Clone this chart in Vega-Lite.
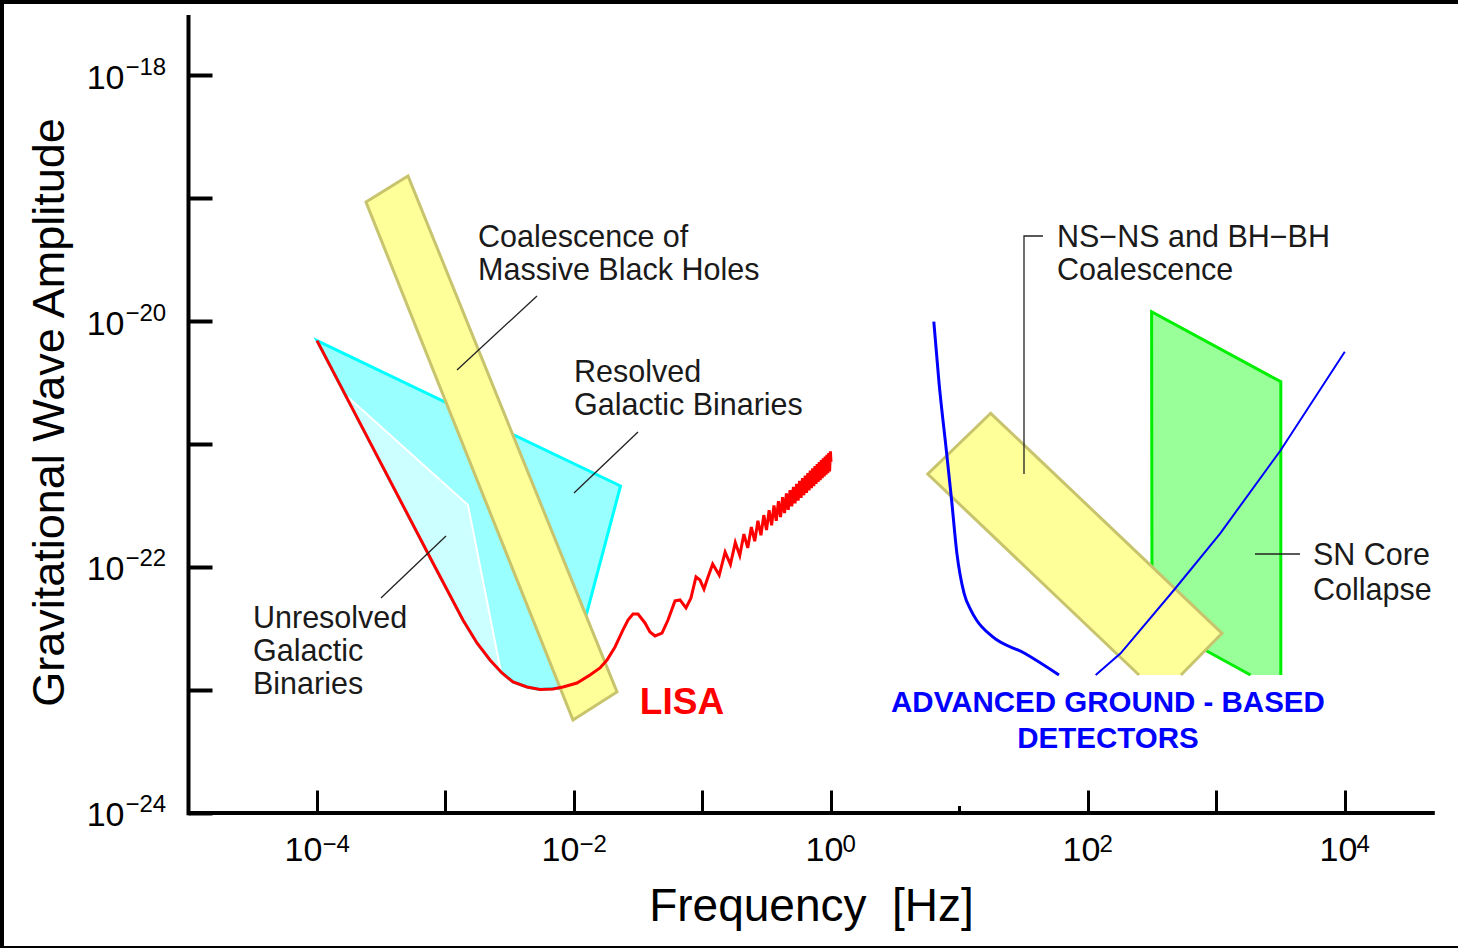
{
  "$schema": "https://vega.github.io/schema/vega-lite/v6.json",
  "width": 1458,
  "height": 948,
  "padding": 0,
  "autosize": {"type": "none"},
  "background": "white",
  "config": {"view": {"stroke": null}},
  "resolve": {"axis": {"x": "independent", "y": "independent"}},
  "datasets": {
    "cyan": [
      {"i": 0, "f": 1.0e-4, "h": 6.92e-21},
      {"i": 1, "f": 2.301e-2, "h": 4.555e-22},
      {"i": 2, "f": 1.263e-2, "h": 4.305e-23},
      {"i": 3, "f": 8.064e-3, "h": 1.038e-23},
      {"i": 4, "f": 5.437e-3, "h": 1.009e-23},
      {"i": 5, "f": 4.306e-3, "h": 1.057e-23},
      {"i": 6, "f": 3.353e-3, "h": 1.161e-23},
      {"i": 7, "f": 2.752e-3, "h": 1.374e-23},
      {"i": 8, "f": 2.220e-3, "h": 1.754e-23},
      {"i": 9, "f": 1.758e-3, "h": 2.41e-23},
      {"i": 10, "f": 1.368e-3, "h": 3.707e-23},
      {"i": 11, "f": 7.99e-4, "h": 1.078e-22}
    ],
    "lightcyan": [
      {"i": 0, "f": 1.774e-4, "h": 2.366e-21},
      {"i": 1, "f": 1.496e-3, "h": 3.19e-22},
      {"i": 2, "f": 2.703e-3, "h": 1.40e-23},
      {"i": 3, "f": 2.220e-3, "h": 1.754e-23},
      {"i": 4, "f": 1.758e-3, "h": 2.41e-23},
      {"i": 5, "f": 1.368e-3, "h": 3.707e-23},
      {"i": 6, "f": 7.99e-4, "h": 1.078e-22},
      {"i": 7, "f": 1.774e-4, "h": 2.196e-21}
    ],
    "mbh": [
      {"i": 0, "f": 2.406e-4, "h": 9.28e-20},
      {"i": 1, "f": 5.108e-4, "h": 1.510e-19},
      {"i": 2, "f": 2.161e-2, "h": 9.63e-24},
      {"i": 3, "f": 9.82e-3, "h": 5.70e-24}
    ],
    "lisa": [
      {"f": 1.0e-4, "h": 6.92e-21},
      {"f": 7.99e-4, "h": 1.078e-22},
      {"f": 1.368e-3, "h": 3.707e-23},
      {"f": 1.758e-3, "h": 2.41e-23},
      {"f": 2.220e-3, "h": 1.754e-23},
      {"f": 2.752e-3, "h": 1.374e-23},
      {"f": 3.353e-3, "h": 1.161e-23},
      {"f": 4.306e-3, "h": 1.057e-23},
      {"f": 5.437e-3, "h": 1.009e-23},
      {"f": 6.865e-3, "h": 1.019e-23},
      {"f": 8.21e-3, "h": 1.057e-23},
      {"f": 1.055e-2, "h": 1.140e-23},
      {"f": 1.332e-2, "h": 1.324e-23},
      {"f": 1.593e-2, "h": 1.510e-23},
      {"f": 1.806e-2, "h": 1.754e-23},
      {"f": 2.085e-2, "h": 2.239e-23},
      {"f": 2.406e-2, "h": 3.08e-23},
      {"f": 2.632e-2, "h": 3.707e-23},
      {"f": 2.878e-2, "h": 4.15e-23},
      {"f": 3.148e-2, "h": 4.15e-23},
      {"f": 3.569e-2, "h": 3.508e-23},
      {"f": 3.903e-2, "h": 2.965e-23},
      {"f": 4.270e-2, "h": 2.748e-23},
      {"f": 4.840e-2, "h": 2.904e-23},
      {"f": 5.389e-2, "h": 3.707e-23},
      {"f": 6.109e-2, "h": 5.30e-23},
      {"f": 6.681e-2, "h": 5.40e-23},
      {"f": 7.440e-2, "h": 4.65e-23},
      {"f": 8.138e-2, "h": 5.60e-23},
      {"f": 8.900e-2, "h": 8.30e-23},
      {"f": 9.561e-2, "h": 7.83e-23},
      {"f": 0.1027, "h": 6.62e-23},
      {"f": 0.1104, "h": 8.30e-23},
      {"f": 0.12, "h": 1.056e-22},
      {"f": 0.135, "h": 8.6e-23},
      {"f": 0.15, "h": 1.32e-22},
      {"f": 0.165, "h": 1.05e-22},
      {"f": 0.18, "h": 1.58e-22},
      {"f": 0.195, "h": 1.24e-22},
      {"f": 0.21, "h": 1.85e-22},
      {"f": 0.225, "h": 1.43e-22},
      {"f": 0.24, "h": 2.11e-22},
      {"f": 0.255, "h": 1.62e-22},
      {"f": 0.27, "h": 2.38e-22},
      {"f": 0.285, "h": 1.81e-22},
      {"f": 0.30, "h": 2.64e-22},
      {"f": 0.315, "h": 2.00e-22},
      {"f": 0.33, "h": 2.90e-22},
      {"f": 0.345, "h": 2.18e-22},
      {"f": 0.36, "h": 3.17e-22},
      {"f": 0.375, "h": 2.37e-22},
      {"f": 0.39, "h": 3.43e-22},
      {"f": 0.405, "h": 2.55e-22},
      {"f": 0.42, "h": 3.70e-22},
      {"f": 0.435, "h": 2.74e-22},
      {"f": 0.45, "h": 3.96e-22},
      {"f": 0.465, "h": 2.92e-22},
      {"f": 0.48, "h": 4.22e-22},
      {"f": 0.495, "h": 3.11e-22},
      {"f": 0.51, "h": 4.49e-22},
      {"f": 0.525, "h": 3.29e-22},
      {"f": 0.54, "h": 4.75e-22},
      {"f": 0.555, "h": 3.47e-22},
      {"f": 0.57, "h": 5.02e-22},
      {"f": 0.585, "h": 3.65e-22},
      {"f": 0.60, "h": 5.28e-22},
      {"f": 0.615, "h": 3.83e-22},
      {"f": 0.63, "h": 5.54e-22},
      {"f": 0.645, "h": 4.01e-22},
      {"f": 0.66, "h": 5.81e-22},
      {"f": 0.675, "h": 4.19e-22},
      {"f": 0.69, "h": 6.07e-22},
      {"f": 0.705, "h": 4.37e-22},
      {"f": 0.72, "h": 6.34e-22},
      {"f": 0.735, "h": 4.55e-22},
      {"f": 0.75, "h": 6.60e-22},
      {"f": 0.765, "h": 4.73e-22},
      {"f": 0.78, "h": 6.86e-22},
      {"f": 0.795, "h": 4.91e-22},
      {"f": 0.81, "h": 7.13e-22},
      {"f": 0.825, "h": 5.09e-22},
      {"f": 0.84, "h": 7.39e-22},
      {"f": 0.855, "h": 5.27e-22},
      {"f": 0.87, "h": 7.66e-22},
      {"f": 0.885, "h": 5.44e-22},
      {"f": 0.90, "h": 7.92e-22},
      {"f": 0.915, "h": 5.62e-22},
      {"f": 0.93, "h": 8.18e-22},
      {"f": 0.945, "h": 5.80e-22},
      {"f": 0.96, "h": 8.45e-22},
      {"f": 0.975, "h": 5.97e-22},
      {"f": 0.99, "h": 8.71e-22},
      {"f": 1.0, "h": 7.15e-22}
    ],
    "green": [
      {"i": 0, "f": 3166, "h": 1.324e-23},
      {"i": 1, "f": 3166, "h": 3.21e-21},
      {"i": 2, "f": 312.6, "h": 1.190e-20},
      {"i": 3, "f": 314.9, "h": 3.64e-23},
      {"i": 4, "f": 1839, "h": 1.324e-23}
    ],
    "nsns": [
      {"i": 0, "f": 529.2, "h": 1.324e-23},
      {"i": 1, "f": 1104, "h": 2.891e-23},
      {"i": 2, "f": 17.49, "h": 1.777e-21},
      {"i": 3, "f": 5.665, "h": 5.70e-22},
      {"i": 4, "f": 249.5, "h": 1.324e-23}
    ],
    "blueLeft": [
      {"f": 6.31, "h": 9.87e-21},
      {"f": 6.937, "h": 3.115e-21},
      {"f": 7.895, "h": 8.94e-22},
      {"f": 8.679, "h": 3.505e-22},
      {"f": 9.545, "h": 1.292e-22},
      {"f": 10.86, "h": 6.11e-23},
      {"f": 12.2, "h": 4.5e-23},
      {"f": 13.56, "h": 3.707e-23},
      {"f": 18.06, "h": 2.712e-23},
      {"f": 32.11, "h": 1.987e-23},
      {"f": 59.47, "h": 1.324e-23}
    ],
    "blueRight": [
      {"f": 114.8, "h": 1.324e-23},
      {"f": 179.4, "h": 1.987e-23},
      {"f": 467.0, "h": 6.50e-23},
      {"f": 1070, "h": 1.879e-22},
      {"f": 3166, "h": 8.94e-22},
      {"f": 9963, "h": 5.63e-21}
    ],
    "leaders": [
      {"g": "mbh", "i": 0, "f": 5.153e-3, "h": 1.597e-20},
      {"g": "mbh", "i": 1, "f": 1.229e-3, "h": 3.996e-21},
      {"g": "res", "i": 0, "f": 3.148e-2, "h": 1.252e-21},
      {"g": "res", "i": 1, "f": 1.0e-2, "h": 3.996e-22},
      {"g": "unres", "i": 0, "f": 3.147e-4, "h": 5.60e-23},
      {"g": "unres", "i": 1, "f": 1.009e-3, "h": 1.786e-22},
      {"g": "ns", "i": 0, "f": 44.64, "h": 4.91e-20},
      {"g": "ns", "i": 1, "f": 31.77, "h": 4.91e-20},
      {"g": "ns", "i": 2, "f": 31.77, "h": 5.70e-22},
      {"g": "sn", "i": 0, "f": 1993, "h": 1.276e-22},
      {"g": "sn", "i": 1, "f": 4465, "h": 1.276e-22}
    ],
    "notes": [
      {"f": 1.791e-3, "h": 4.73e-20, "t": "Coalescence of"},
      {"f": 1.791e-3, "h": 2.55e-20, "t": "Massive Black Holes"},
      {"f": 1.0e-2, "h": 3.776e-21, "t": "Resolved"},
      {"f": 1.0e-2, "h": 2.037e-21, "t": "Galactic Binaries"},
      {"f": 3.177e-5, "h": 3.776e-23, "t": "Unresolved"},
      {"f": 3.177e-5, "h": 2.037e-23, "t": "Galactic"},
      {"f": 3.177e-5, "h": 1.099e-23, "t": "Binaries"},
      {"f": 57.39, "h": 4.73e-20, "t": "NS\u2212NS and BH\u2212BH"},
      {"f": 57.39, "h": 2.55e-20, "t": "Coalescence"},
      {"f": 5636, "h": 1.228e-22, "t": "SN Core"},
      {"f": 5636, "h": 6.38e-23, "t": "Collapse"}
    ],
    "lisaLabel": [
      {"f": 6.924e-2, "h": 7.84e-24, "t": "LISA"}
    ],
    "groundLabel": [
      {"f": 143.0, "h": 7.84e-24, "t": "ADVANCED GROUND - BASED"},
      {"f": 143.0, "h": 4.0e-24, "t": "DETECTORS"}
    ],
    "xAxisLine": [{"f": 1.0e-5, "f2": 5.0e4, "h": 1.0e-24}],
    "yAxisLine": [{"f": 1.0e-5, "h": 9.6e-25, "h2": 3.08e-18}],
    "shortTick": [{"f": 10, "h": 1.0e-24, "h2": 1.14e-24}],
    "borderLeft": [{"f": 3.413e-7, "h": 7.987e-26, "h2": 4.072e-18}],
    "borderTop": [{"f": 3.413e-7, "f2": 75760, "h": 4.072e-18}],
    "borderBottom": [{"f": 3.413e-7, "f2": 75760, "h": 7.987e-26}]
  },
  "encoding": {
    "x": {
      "field": "f",
      "type": "quantitative",
      "scale": {"type": "log", "domain": [3.413e-7, 75760], "nice": false, "zero": false},
      "axis": null
    },
    "y": {
      "field": "h",
      "type": "quantitative",
      "scale": {"type": "log", "domain": [7.987e-26, 4.072e-18], "nice": false, "zero": false},
      "axis": null
    }
  },
  "layer": [
    {
      "data": {"name": "cyan"},
      "mark": {"type": "line", "interpolate": "linear-closed", "fill": "#99FFFF", "stroke": "#00FFFF", "strokeWidth": 3, "strokeJoin": "miter"},
      "encoding": {"order": {"field": "i", "type": "quantitative"}}
    },
    {
      "data": {"name": "lightcyan"},
      "mark": {"type": "line", "interpolate": "linear-closed", "fill": "#CCFFFF", "stroke": "#FFFFFF", "strokeWidth": 2},
      "encoding": {"order": {"field": "i", "type": "quantitative"}}
    },
    {
      "data": {"name": "mbh"},
      "mark": {"type": "line", "interpolate": "linear-closed", "fill": "#FFFF99", "stroke": "#C8C46E", "strokeWidth": 3},
      "encoding": {"order": {"field": "i", "type": "quantitative"}}
    },
    {
      "data": {"name": "lisa"},
      "mark": {"type": "line", "stroke": "#FF0000", "strokeWidth": 3},
      "encoding": {}
    },
    {
      "data": {"name": "green"},
      "mark": {"type": "line", "interpolate": "linear-closed", "fill": "#99FF99", "strokeWidth": 0},
      "encoding": {"order": {"field": "i", "type": "quantitative"}}
    },
    {
      "data": {"name": "green"},
      "mark": {"type": "line", "stroke": "#00EE00", "strokeWidth": 3},
      "encoding": {"order": {"field": "i", "type": "quantitative"}}
    },
    {
      "data": {"name": "nsns"},
      "mark": {"type": "line", "interpolate": "linear-closed", "fill": "#FFFF99", "strokeWidth": 0},
      "encoding": {"order": {"field": "i", "type": "quantitative"}}
    },
    {
      "data": {"name": "nsns"},
      "mark": {"type": "line", "stroke": "#C8C46E", "strokeWidth": 3},
      "encoding": {"order": {"field": "i", "type": "quantitative"}}
    },
    {
      "data": {"name": "blueLeft"},
      "mark": {"type": "line", "stroke": "#0000FF", "strokeWidth": 3, "interpolate": "monotone"},
      "encoding": {}
    },
    {
      "data": {"name": "blueRight"},
      "mark": {"type": "line", "stroke": "#0000FF", "strokeWidth": 2},
      "encoding": {}
    },
    {
      "data": {"name": "leaders"},
      "mark": {"type": "line", "stroke": "#222222", "strokeWidth": 1.3},
      "encoding": {"order": {"field": "i", "type": "quantitative"}, "detail": {"field": "g"}}
    },
    {
      "data": {"name": "xAxisLine"},
      "mark": {"type": "rule", "stroke": "black", "strokeWidth": 4},
      "encoding": {
        "x": {
          "field": "f",
          "type": "quantitative",
          "scale": {"type": "log", "domain": [3.413e-7, 75760], "nice": false, "zero": false},
          "axis": {
            "orient": "bottom",
            "offset": -136,
            "domain": false,
            "grid": false,
            "values": [1e-4, 1e-3, 1e-2, 1e-1, 1, 100, 1000, 10000],
            "tickSize": -22,
            "tickWidth": 3,
            "tickColor": "black",
            "tickCap": "butt",
            "labelExpr": "abs(round(log(datum.value)/LN10)) % 2 == 0 ? '10' : ''",
            "labelFont": "Liberation Sans",
            "labelFontSize": 34,
            "labelColor": "black",
            "labelAlign": "center",
            "labelBaseline": "top",
            "labelPadding": 43,
            "labelOffset": {"condition": {"test": "datum.value < 0.05", "value": -14}, "value": -7},
            "labelFlush": false,
            "labelOverlap": false,
            "labelBound": false,
            "title": "Frequency\u00a0\u00a0[Hz]",
            "titleFont": "Liberation Sans",
            "titleFontSize": 46,
            "titleFontWeight": "normal",
            "titleColor": "black",
            "titleX": 811,
            "titleY": 108,
            "titleAlign": "center",
            "titleBaseline": "alphabetic"
          }
        },
        "x2": {"field": "f2"}
      }
    },
    {
      "data": {"name": "shortTick"},
      "mark": {"type": "rule", "stroke": "black", "strokeWidth": 3},
      "encoding": {
        "x": {
          "field": "f",
          "type": "quantitative",
          "scale": {"type": "log", "domain": [3.413e-7, 75760], "nice": false, "zero": false},
          "axis": {
            "orient": "bottom",
            "offset": -136,
            "domain": false,
            "grid": false,
            "values": [1e-4, 1e-2, 1, 100, 10000],
            "ticks": true,
            "tickSize": 0,
            "tickWidth": 0,
            "tickOpacity": 0,
            "labelExpr": "datum.value < 5e-4 ? '\u22124' : datum.value < 0.05 ? '\u22122' : datum.value < 5 ? '0' : datum.value < 500 ? '2' : '4'",
            "labelFont": "Liberation Sans",
            "labelFontSize": 24,
            "labelColor": "black",
            "labelAlign": "left",
            "labelBaseline": "top",
            "labelPadding": 20,
            "labelOffset": {"condition": {"test": "datum.value < 0.05", "value": 5}, "value": 11},
            "labelFlush": false,
            "labelOverlap": false,
            "labelBound": false,
            "title": null
          }
        },
        "y2": {"field": "h2"}
      }
    },
    {
      "data": {"name": "yAxisLine"},
      "mark": {"type": "rule", "stroke": "black", "strokeWidth": 4},
      "encoding": {
        "y": {
          "field": "h",
          "type": "quantitative",
          "scale": {"type": "log", "domain": [7.987e-26, 4.072e-18], "nice": false, "zero": false},
          "axis": {
            "orient": "left",
            "offset": -188,
            "domain": false,
            "grid": false,
            "values": [1e-18, 1e-19, 1e-20, 1e-21, 1e-22, 1e-23, 1e-24],
            "tickSize": -24,
            "tickWidth": 4,
            "tickColor": "black",
            "tickCap": "butt",
            "labelExpr": "abs(round(log(datum.value)/LN10)) % 2 == 0 ? '10' : ''",
            "labelFont": "Liberation Sans",
            "labelFontSize": 34,
            "labelColor": "black",
            "labelAlign": "right",
            "labelBaseline": "middle",
            "labelPadding": 88,
            "labelOffset": 3,
            "labelFlush": false,
            "labelOverlap": false,
            "labelBound": false,
            "title": "Gravitational Wave Amplitude",
            "titleFont": "Liberation Sans",
            "titleFontSize": 45,
            "titleFontWeight": "normal",
            "titleColor": "black",
            "titleAngle": 270,
            "titleX": -139,
            "titleY": 412,
            "titleAlign": "center",
            "titleBaseline": "middle"
          }
        },
        "y2": {"field": "h2"}
      }
    },
    {
      "data": {"name": "borderLeft"},
      "mark": {"type": "rule", "stroke": "black", "strokeWidth": 8},
      "encoding": {
        "y": {
          "field": "h",
          "type": "quantitative",
          "scale": {"type": "log", "domain": [7.987e-26, 4.072e-18], "nice": false, "zero": false},
          "axis": {
            "orient": "left",
            "offset": -188,
            "domain": false,
            "grid": false,
            "values": [1e-18, 1e-20, 1e-22, 1e-24],
            "ticks": true,
            "tickSize": 0,
            "tickWidth": 0,
            "tickOpacity": 0,
            "labelExpr": "datum.value > 5e-19 ? '\u221218' : datum.value > 5e-21 ? '\u221220' : datum.value > 5e-23 ? '\u221222' : '\u221224'",
            "labelFont": "Liberation Sans",
            "labelFontSize": 24,
            "labelColor": "black",
            "labelAlign": "left",
            "labelBaseline": "middle",
            "labelPadding": 63,
            "labelOffset": -8,
            "labelFlush": false,
            "labelOverlap": false,
            "labelBound": false,
            "title": null
          }
        },
        "y2": {"field": "h2"}
      }
    },
    {
      "data": {"name": "borderTop"},
      "mark": {"type": "rule", "stroke": "black", "strokeWidth": 8},
      "encoding": {"x2": {"field": "f2"}}
    },
    {
      "data": {"name": "borderBottom"},
      "mark": {"type": "rule", "stroke": "black", "strokeWidth": 4},
      "encoding": {"x2": {"field": "f2"}}
    },
    {
      "data": {"name": "notes"},
      "mark": {"type": "text", "align": "left", "baseline": "middle", "font": "Liberation Sans", "fontSize": 30.5, "color": "#1A1A1A"},
      "encoding": {"text": {"field": "t"}}
    },
    {
      "data": {"name": "lisaLabel"},
      "mark": {"type": "text", "align": "center", "baseline": "middle", "font": "Liberation Sans", "fontSize": 37, "fontWeight": "bold", "color": "#FF0000"},
      "encoding": {"text": {"field": "t"}}
    },
    {
      "data": {"name": "groundLabel"},
      "mark": {"type": "text", "align": "center", "baseline": "middle", "font": "Liberation Sans", "fontSize": 29.5, "fontWeight": "bold", "color": "#0000FF"},
      "encoding": {"text": {"field": "t"}}
    }
  ]
}
